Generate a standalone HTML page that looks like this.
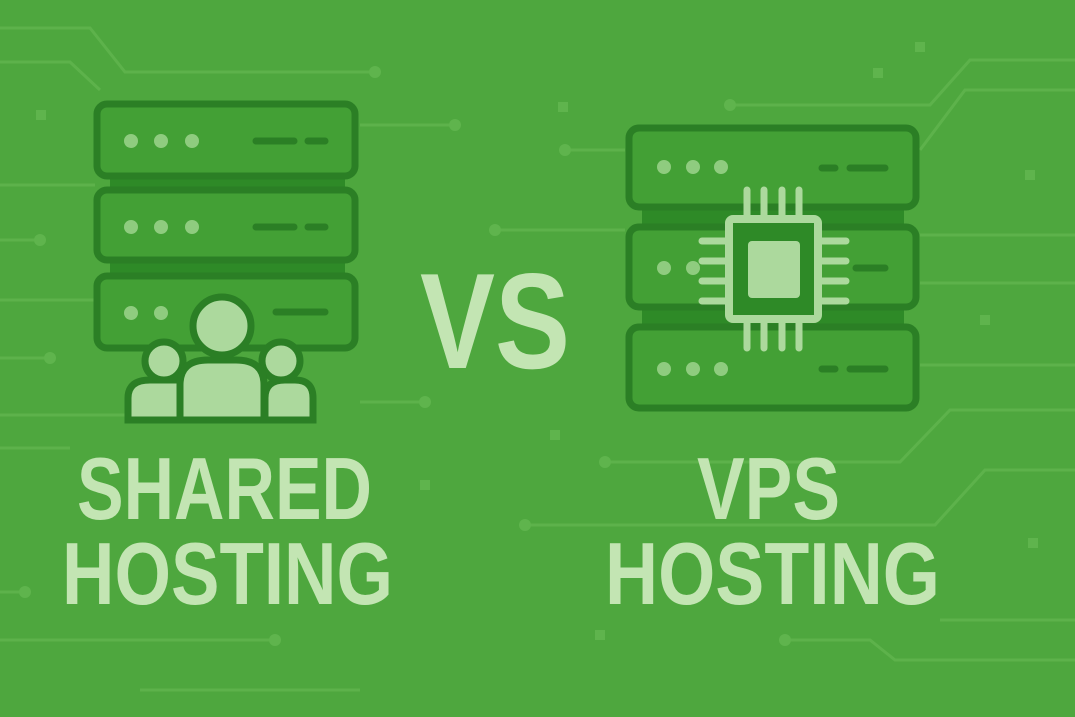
<!DOCTYPE html>
<html><head><meta charset="utf-8"><style>html,body{margin:0;padding:0;background:#4ea73e;}svg{display:block}</style></head><body>
<svg width="1075" height="717" viewBox="0 0 1075 717" xmlns="http://www.w3.org/2000/svg">
<rect width="1075" height="717" fill="#4ea73e"/>
<g stroke="#5fb44d" stroke-width="3" fill="none" opacity="0.9">
<path d="M0 28 H90 L125 72 H375"/><path d="M0 62 H70 L100 90"/>
<path d="M360 125 H455"/><path d="M0 185 H95"/><path d="M0 240 H40"/>
<path d="M0 300 H95"/><path d="M0 358 H50"/><path d="M360 402 H425"/>
<path d="M0 415 H125"/><path d="M0 448 H70"/><path d="M0 592 H25"/>
<path d="M0 640 H275"/><path d="M140 690 H360"/>
<path d="M730 105 H930 L970 60 H1075"/><path d="M920 150 L965 90 H1075"/>
<path d="M565 150 H625"/><path d="M495 230 H625"/><path d="M920 235 H1075"/>
<path d="M920 283 H1075"/><path d="M920 365 H1075"/>
<path d="M605 462 H900 L950 410 H1075"/><path d="M525 525 H935 L985 470 H1075"/>
<path d="M785 640 H870 L895 660 H1075"/><path d="M940 620 H1075"/>
</g>
<g fill="#5fb44d">
<circle cx="375" cy="72" r="6"/><circle cx="455" cy="125" r="6"/><circle cx="40" cy="240" r="6"/>
<circle cx="50" cy="358" r="6"/><circle cx="425" cy="402" r="6"/><circle cx="25" cy="592" r="6"/>
<circle cx="275" cy="640" r="6"/><circle cx="730" cy="105" r="6"/><circle cx="565" cy="150" r="6"/>
<circle cx="495" cy="230" r="6"/><circle cx="605" cy="462" r="6"/><circle cx="525" cy="525" r="6"/>
<circle cx="785" cy="640" r="6"/>
<rect x="36" y="110" width="10" height="10"/><rect x="558" y="102" width="10" height="10"/>
<rect x="873" y="68" width="10" height="10"/><rect x="1025" y="170" width="10" height="10"/>
<rect x="550" y="430" width="10" height="10"/><rect x="420" y="480" width="10" height="10"/>
<rect x="1028" y="538" width="10" height="10"/><rect x="595" y="630" width="10" height="10"/>
<rect x="915" y="42" width="10" height="10"/><rect x="980" y="315" width="10" height="10"/>
</g>
<!-- left server -->
<g stroke="#2b7f25" stroke-width="7">
<rect x="110" y="176" width="235" height="14" fill="#2e8a27" stroke="none"/>
<rect x="110" y="260" width="235" height="16" fill="#2e8a27" stroke="none"/>
<rect x="97" y="104" width="258" height="72" rx="10" fill="#43a035"/>
<rect x="97" y="190" width="258" height="70" rx="10" fill="#43a035"/>
<rect x="97" y="276" width="258" height="72" rx="10" fill="#43a035"/>
</g>
<g fill="#8fcc7f">
<circle cx="131" cy="141" r="7"/><circle cx="161" cy="141" r="7"/><circle cx="192" cy="141" r="7"/>
<circle cx="131" cy="227" r="7"/><circle cx="161" cy="227" r="7"/><circle cx="192" cy="227" r="7"/>
<circle cx="131" cy="313" r="7"/><circle cx="161" cy="313" r="7"/>
</g>
<g stroke="#2b7f25" stroke-width="7" stroke-linecap="round">
<path d="M256 141 H294 M308 141 H325"/><path d="M256 227 H294 M308 227 H325"/><path d="M276 312 H325"/>
</g>
<!-- people -->
<g fill="#acd99d" stroke="#2b7f25" stroke-width="7">
<path d="M128 420 V398 Q128 380 150 380 H180 Q200 380 200 398 V420 Z"/>
<path d="M265 420 V398 Q265 380 285 380 H295 Q313 380 313 398 V420 Z"/>
<circle cx="164" cy="361" r="19"/><circle cx="281" cy="361" r="19"/>
<path d="M180 420 V385 Q180 360 208 360 H236 Q264 360 264 385 V420 Z"/>
<circle cx="222" cy="326" r="29"/>
</g>
<!-- right server -->
<g stroke="#2b7f25" stroke-width="7">
<rect x="642" y="207" width="262" height="20" fill="#2e8a27" stroke="none"/>
<rect x="642" y="307" width="262" height="20" fill="#2e8a27" stroke="none"/>
<rect x="629" y="128" width="287" height="79" rx="10" fill="#43a035"/>
<rect x="629" y="227" width="287" height="80" rx="10" fill="#43a035"/>
<rect x="629" y="327" width="287" height="81" rx="10" fill="#43a035"/>
</g>
<g fill="#8fcc7f">
<circle cx="664" cy="167" r="7"/><circle cx="693" cy="167" r="7"/><circle cx="721" cy="167" r="7"/>
<circle cx="664" cy="268" r="7"/><circle cx="693" cy="268" r="7"/>
<circle cx="664" cy="369" r="7"/><circle cx="693" cy="369" r="7"/><circle cx="721" cy="369" r="7"/>
</g>
<g stroke="#2b7f25" stroke-width="7" stroke-linecap="round">
<path d="M822 168 H835 M850 168 H885"/><path d="M856 268 H885"/><path d="M822 369 H835 M850 369 H885"/>
</g>
<!-- chip -->
<g stroke="#acd99d" stroke-width="7" stroke-linecap="round">
<path d="M747 190 V216 M764 190 V216 M782 190 V216 M799 190 V216"/>
<path d="M747 322 V348 M764 322 V348 M782 322 V348 M799 322 V348"/>
<path d="M702 241 H725 M702 261 H725 M702 281 H725 M702 301 H725"/>
<path d="M822 241 H846 M822 261 H846 M822 281 H846 M822 301 H846"/>
</g>
<rect x="729" y="219" width="89" height="100" rx="4" fill="#2e8a27" stroke="#acd99d" stroke-width="8"/>
<rect x="748" y="241" width="52" height="57" rx="4" fill="#acd99d"/>
<!-- text -->
<g fill="#c3e5b3" font-family="Liberation Sans, sans-serif" font-weight="bold">
<text x="420" y="368" font-size="136" textLength="150" lengthAdjust="spacingAndGlyphs">VS</text>
<text x="77" y="519" font-size="88" textLength="295" lengthAdjust="spacingAndGlyphs">SHARED</text>
<text x="62" y="604" font-size="88" textLength="331" lengthAdjust="spacingAndGlyphs">HOSTING</text>
<text x="697" y="519" font-size="88" textLength="143" lengthAdjust="spacingAndGlyphs">VPS</text>
<text x="605" y="604" font-size="88" textLength="335" lengthAdjust="spacingAndGlyphs">HOSTING</text>
</g>
</svg>
</body></html>
